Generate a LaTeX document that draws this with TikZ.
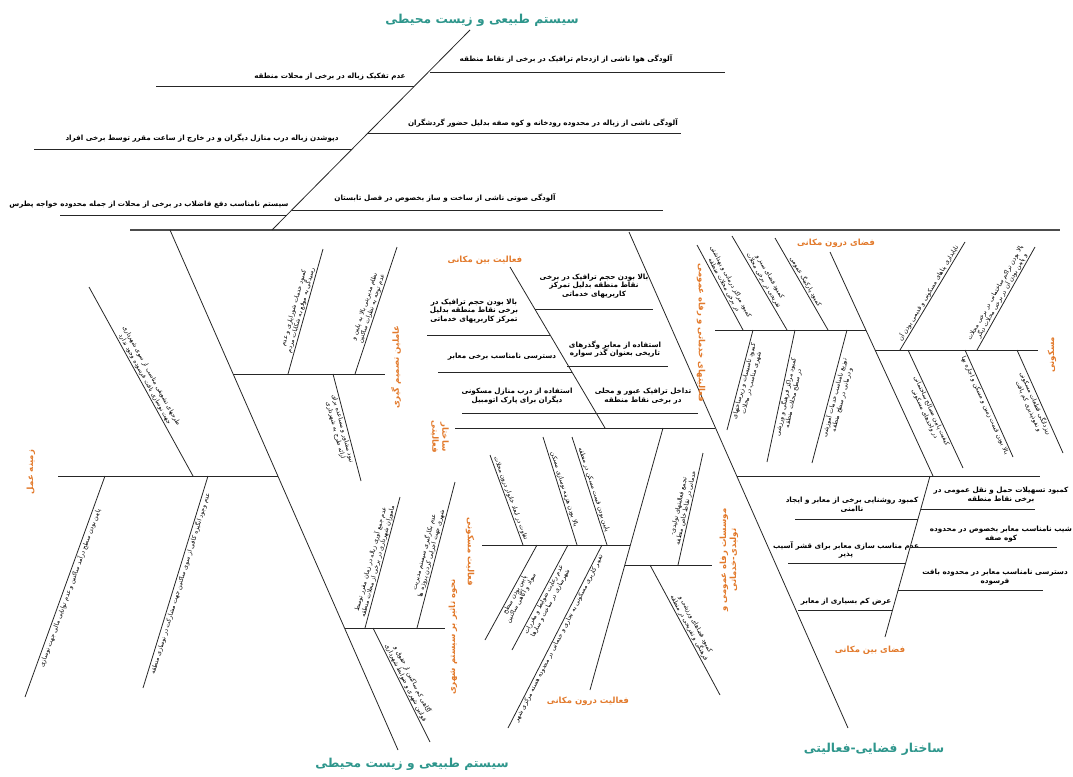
\documentclass[tikz,border=0pt]{standalone}
\usepackage{fontspec}
\TeXXeTstate=1
\newfontfamily\arabicfont[Script=Arabic]{DejaVu Sans}
\newcommand{\af}{\arabicfont}
\definecolor{ttlc}{HTML}{2E968C}
\definecolor{lblc}{HTML}{E27A2C}
\tikzset{
  ln/.style={draw=black!85, line width=0.8pt},
  mainln/.style={draw=black!70, line width=1.3pt},
  htxt/.style={font=\fontsize{7.2}{8.6}\selectfont\bfseries, align=center, inner sep=0.5pt},
  stxt/.style={font=\fontsize{6.2}{7.4}\selectfont, align=center, inner sep=1pt},
  lbl/.style={text=lblc, font=\fontsize{8.5}{10}\selectfont\bfseries, align=center, inner sep=0.5pt},
  ttl/.style={text=ttlc, font=\fontsize{12.3}{14}\selectfont\bfseries, inner sep=0pt},
}
\newcommand{\sbone}[5]{\draw[ln] (#1) -- (#2) node[midway, sloped, #3, stxt, text width=#4pt] {\af #5};}
\begin{document}
\begin{tikzpicture}[x=1pt,y=-1pt]
\useasboundingbox (0,0) rectangle (1073,776);
% ---------- top bone ----------
\draw[mainln] (130,230) -- (1060,230);
\draw[ln] (272,230) -- (470,30);
\node[ttl] (t1) at (482,20) {\af\beginR سیستم طبیعی و زیست محیطی\endR};
\draw[ln] (430,72) -- (725,72);
\node[htxt] at (566,59) {\af\beginR آلودگی هوا ناشی از ازدحام ترافیک در برخی از نقاط منطقه\endR};
\draw[ln] (156,86) -- (414,86);
\node[htxt] at (330,77) {\af\beginR عدم تفکیک زباله در برخی از محلات منطقه\endR};
\draw[ln] (368,133) -- (681,133);
\node[htxt] at (543,123) {\af\beginR آلودگی ناشی از زباله در محدوده رودخانه و کوه صفه بدلیل حضور گردشگران\endR};
\draw[ln] (34,149) -- (352,149);
\node[htxt] at (202,138) {\af\beginR دپوشدن زباله درب منازل دیگران و در خارج از ساعت مقرر توسط برخی افراد\endR};
\draw[ln] (292,210) -- (663,210);
\node[htxt] at (445,198) {\af\beginR آلودگی صوتی ناشی از ساخت و ساز بخصوص در فصل تابستان\endR};
\draw[ln] (60,215) -- (287,215);
\node[htxt] at (149,205) {\af\beginR سیستم نامناسب دفع فاضلاب در برخی از محلات از جمله محدوده خواجه پطرس\endR};
% ---------- left big bone ----------
\draw[ln] (170,230) -- (398,750);
\node[ttl] (t2) at (412,764) {\af\beginR سیستم طبیعی و زیست محیطی\endR};
% zamine amal
\draw[ln] (58,476) -- (278,476);
\node[lbl, rotate=90] at (31,472) {\af\beginR زمینه عمل\endR};
\sbone{89,287}{193,476}{above}{200}{\beginR طرحهای تشویقی مناسب از سوی شهرداری جهت نوسازی بافت فرسوده وجود ندارد\endR}
\sbone{25,697}{105,476}{below}{215}{\beginR پایین بودن سطح درآمد ساکنین و عدم توانایی مالی جهت نوسازی\endR}
\sbone{143,688}{208,476}{below}{200}{\beginR عدم وجود انگیزه کافی از سوی ساکنین جهت مشارکت در نوسازی منطقه\endR}
% avamel tasmim giri
\draw[ln] (233,374) -- (385,374);
\node[lbl, rotate=90] at (396,367) {\af\beginR عاملین تصمیم گیری\endR};
\sbone{288,374}{323,249}{above}{120}{\beginR کمبود خدمات شورایاری و عدم رسیدگی به موقع به شکایات مردم\endR}
\sbone{355,374}{397,247}{above}{125}{\beginR نظام مدیریتی بالا به پایین و عدم توجه به نظرات ساکنین\endR}
\sbone{333,374}{361,481}{below}{100}{\beginR نبود مشاور و مساعده برای ارائه طرح به شهرداری\endR}
% nahve tasir
\draw[ln] (345,628) -- (445,628);
\node[lbl, rotate=90] at (453,637) {\af\beginR نحوه تاثیر بر سیستم شهری\endR};
\sbone{365,628}{400,497}{above}{130}{\beginR عدم جمع آوری زباله در زمان مقرر توسط ماموران شهرداری در برخی از محلات منطقه\endR}
\sbone{417,628}{455,482}{above}{140}{\beginR عدم بکارگیری سیستم مدیریت شهری جهت اجرایی کردن پروژه ها\endR}
\sbone{373,628}{430,742}{above}{95}{\beginR آگاهی کم ساکنین از حقوق و قوانین شهری و ضوابط شهرداری\endR}
% ---------- faaliat bein makani ----------
\draw[ln] (510,267) -- (605,428);
\node[lbl] at (485,260) {\af\beginR فعالیت بین مکانی\endR};
\draw[ln] (535,309) -- (653,309);
\node[htxt] at (594,286) {\af\beginR بالا بودن حجم ترافیک در برخی\endR\\\af\beginR نقاط منطقه بدلیل تمرکز\endR\\\af\beginR کاربریهای خدماتی\endR};
\draw[ln] (567,366) -- (668,366);
\node[htxt] at (615,349) {\af\beginR استفاده از معابر وگذرهای\endR\\\af\beginR تاریخی بعنوان گذر سواره\endR};
\draw[ln] (462,413) -- (698,413);
\node[htxt] at (643,396) {\af\beginR تداخل ترافیک عبور و محلی\endR\\\af\beginR در برخی نقاط منطقه\endR};
\node[htxt] at (517,396) {\af\beginR استفاده از درب منازل مسکونی\endR\\\af\beginR دیگران برای پارک اتومبیل\endR};
\draw[ln] (427,335) -- (550,335);
\node[htxt] at (474,311) {\af\beginR بالا بودن حجم ترافیک در\endR\\\af\beginR برخی نقاط منطقه بدلیل\endR\\\af\beginR تمرکز کاربریهای خدماتی\endR};
\draw[ln] (438,372) -- (572,372);
\node[htxt] at (502,357) {\af\beginR دسترسی نامناسب برخی معابر\endR};
% ---------- sakhtar faaliati ----------
\draw[ln] (455,428) -- (715,428);
\node[lbl, rotate=-90] at (440,437) {\af\beginR ساختار\endR\\\af\beginR فعالیتی\endR};
\draw[ln] (663,428) -- (590,690);
\node[lbl] at (588,701) {\af\beginR فعالیت درون مکانی\endR};
% faaliat maskuni
\draw[ln] (482,545) -- (630,545);
\node[lbl, rotate=-90] at (470,552) {\af\beginR فعالیت مسکونی\endR};
\sbone{490,455}{523,545}{above}{90}{\beginR تفاوت در ابعاد خانوار درون محلات\endR}
\sbone{543,437}{577,545}{above}{105}{\beginR بالا بودن هزینه نوسازی مسکن\endR}
\sbone{572,437}{607,545}{above}{105}{\beginR پایین بودن قیمت مسکن در منطقه\endR}
\sbone{485,640}{537,545}{below}{100}{\beginR پایین بودن سطح سواد و آگاهی ساکنین\endR}
\sbone{512,650}{568,545}{below}{110}{\beginR عدم رعایت ضوابط و مقررات شهرسازی در ساخت و سازها\endR}
\sbone{508,728}{602,545}{below}{190}{\beginR تغییر کاربری مسکونی به تجاری و خدماتی در محدوده هسته مرکزی شهر\endR}
% moassesat
\draw[ln] (625,565) -- (712,565);
\node[lbl, rotate=90] at (729,560) {\af\beginR موسسات رفاه عمومی و\endR\\\af\beginR تولیدی-خدماتی\endR};
\sbone{678,565}{703,453}{above}{105}{\beginR تجمع فعالیتهای تولیدی-خدماتی در نقاط خاص منطقه\endR}
\sbone{650,565}{720,695}{above}{100}{\beginR کمبود فضاهای ورزشی و فرهنگی و تفریحی در منطقه\endR}
% ---------- sakhtar fazaei-faaliati ----------
\draw[ln] (629,232) -- (848,728);
\node[ttl] (t3) at (874,749) {\af\beginR ساختار فضایی-فعالیتی\endR};
\draw[ln] (737,476) -- (1040,476);
% faza-ye darun makani
\draw[ln] (830,252) -- (933,476);
\node[lbl] at (836,243) {\af\beginR فضای درون مکانی\endR};
\draw[ln] (715,330) -- (866,330);
\node[lbl, rotate=-90] at (701,333) {\af\beginR فعالیتهای خدماتی و رفاه عمومی\endR};
\sbone{697,245}{743,330}{above}{90}{\beginR کمبود مراکز درمانی و بهداشتی در برخی محلات منطقه\endR}
\sbone{732,236}{787,330}{above}{100}{\beginR کمبود فضای سبز و تفریحی در برخی محلات\endR}
\sbone{775,238}{828,330}{above}{100}{\beginR کمبود پارکینگ عمومی\endR}
\sbone{727,430}{753,330}{below}{95}{\beginR کمبود تاسیسات و زیرساختهای شهری مناسب در محلات\endR}
\sbone{767,462}{795,330}{below}{125}{\beginR کمبود مراکز فرهنگی و ورزشی در سطح محلات منطقه\endR}
\sbone{812,463}{847,330}{below}{125}{\beginR توزیع نامناسب خدمات آموزشی و درمانی در سطح منطقه\endR}
\draw[ln] (875,350) -- (1038,350);
\node[lbl, rotate=90] at (1052,355) {\af\beginR مسکونی\endR};
\sbone{900,350}{965,242}{above}{115}{\beginR ناپایداری بناهای مسکونی و قدیمی بودن آن\endR}
\sbone{977,350}{1035,247}{above}{110}{\beginR بالا بودن تراکم ساختمانی در برخی محلات و پایین بودن آن در برخی محلات دیگر\endR}
\sbone{908,350}{963,468}{below}{120}{\beginR کیفیت پایین مصالح ساختمانی در واحدهای مسکونی\endR}
\sbone{965,350}{1013,457}{below}{108}{\beginR بالا بودن قیمت زمین و مسکن و اجاره بها\endR}
\sbone{1017,350}{1063,453}{below}{105}{\beginR ریزدانگی قطعات مسکونی و نفوذپذیری کم بافت\endR}
% faza-ye bein makani
\draw[ln] (930,476) -- (885,637);
\node[lbl] at (870,650) {\af\beginR فضای بین مکانی\endR};
\draw[ln] (795,519) -- (918,519);
\node[htxt] at (852,505) {\af\beginR کمبود روشنایی برخی از معابر و ایجاد\endR\\\af\beginR ناامنی\endR};
\draw[ln] (788,563) -- (906,563);
\node[htxt] at (846,550) {\af\beginR عدم مناسب سازی معابر برای قشر آسیب\endR\\\af\beginR پذیر\endR};
\draw[ln] (798,610) -- (893,610);
\node[htxt] at (846,602) {\af\beginR عرض کم بسیاری از معابر\endR};
\draw[ln] (921,509) -- (1035,509);
\node[htxt] at (1001,495) {\af\beginR کمبود تسهیلات حمل و نقل عمومی در\endR\\\af\beginR برخی نقاط منطقه\endR};
\draw[ln] (910,547) -- (1057,547);
\node[htxt] at (1001,534) {\af\beginR شیب نامناسب معابر بخصوص در محدوده\endR\\\af\beginR کوه صفه\endR};
\draw[ln] (898,590) -- (1043,590);
\node[htxt] at (995,577) {\af\beginR دسترسی نامناسب معابر در محدوده بافت\endR\\\af\beginR فرسوده\endR};
\end{tikzpicture}
\end{document}
